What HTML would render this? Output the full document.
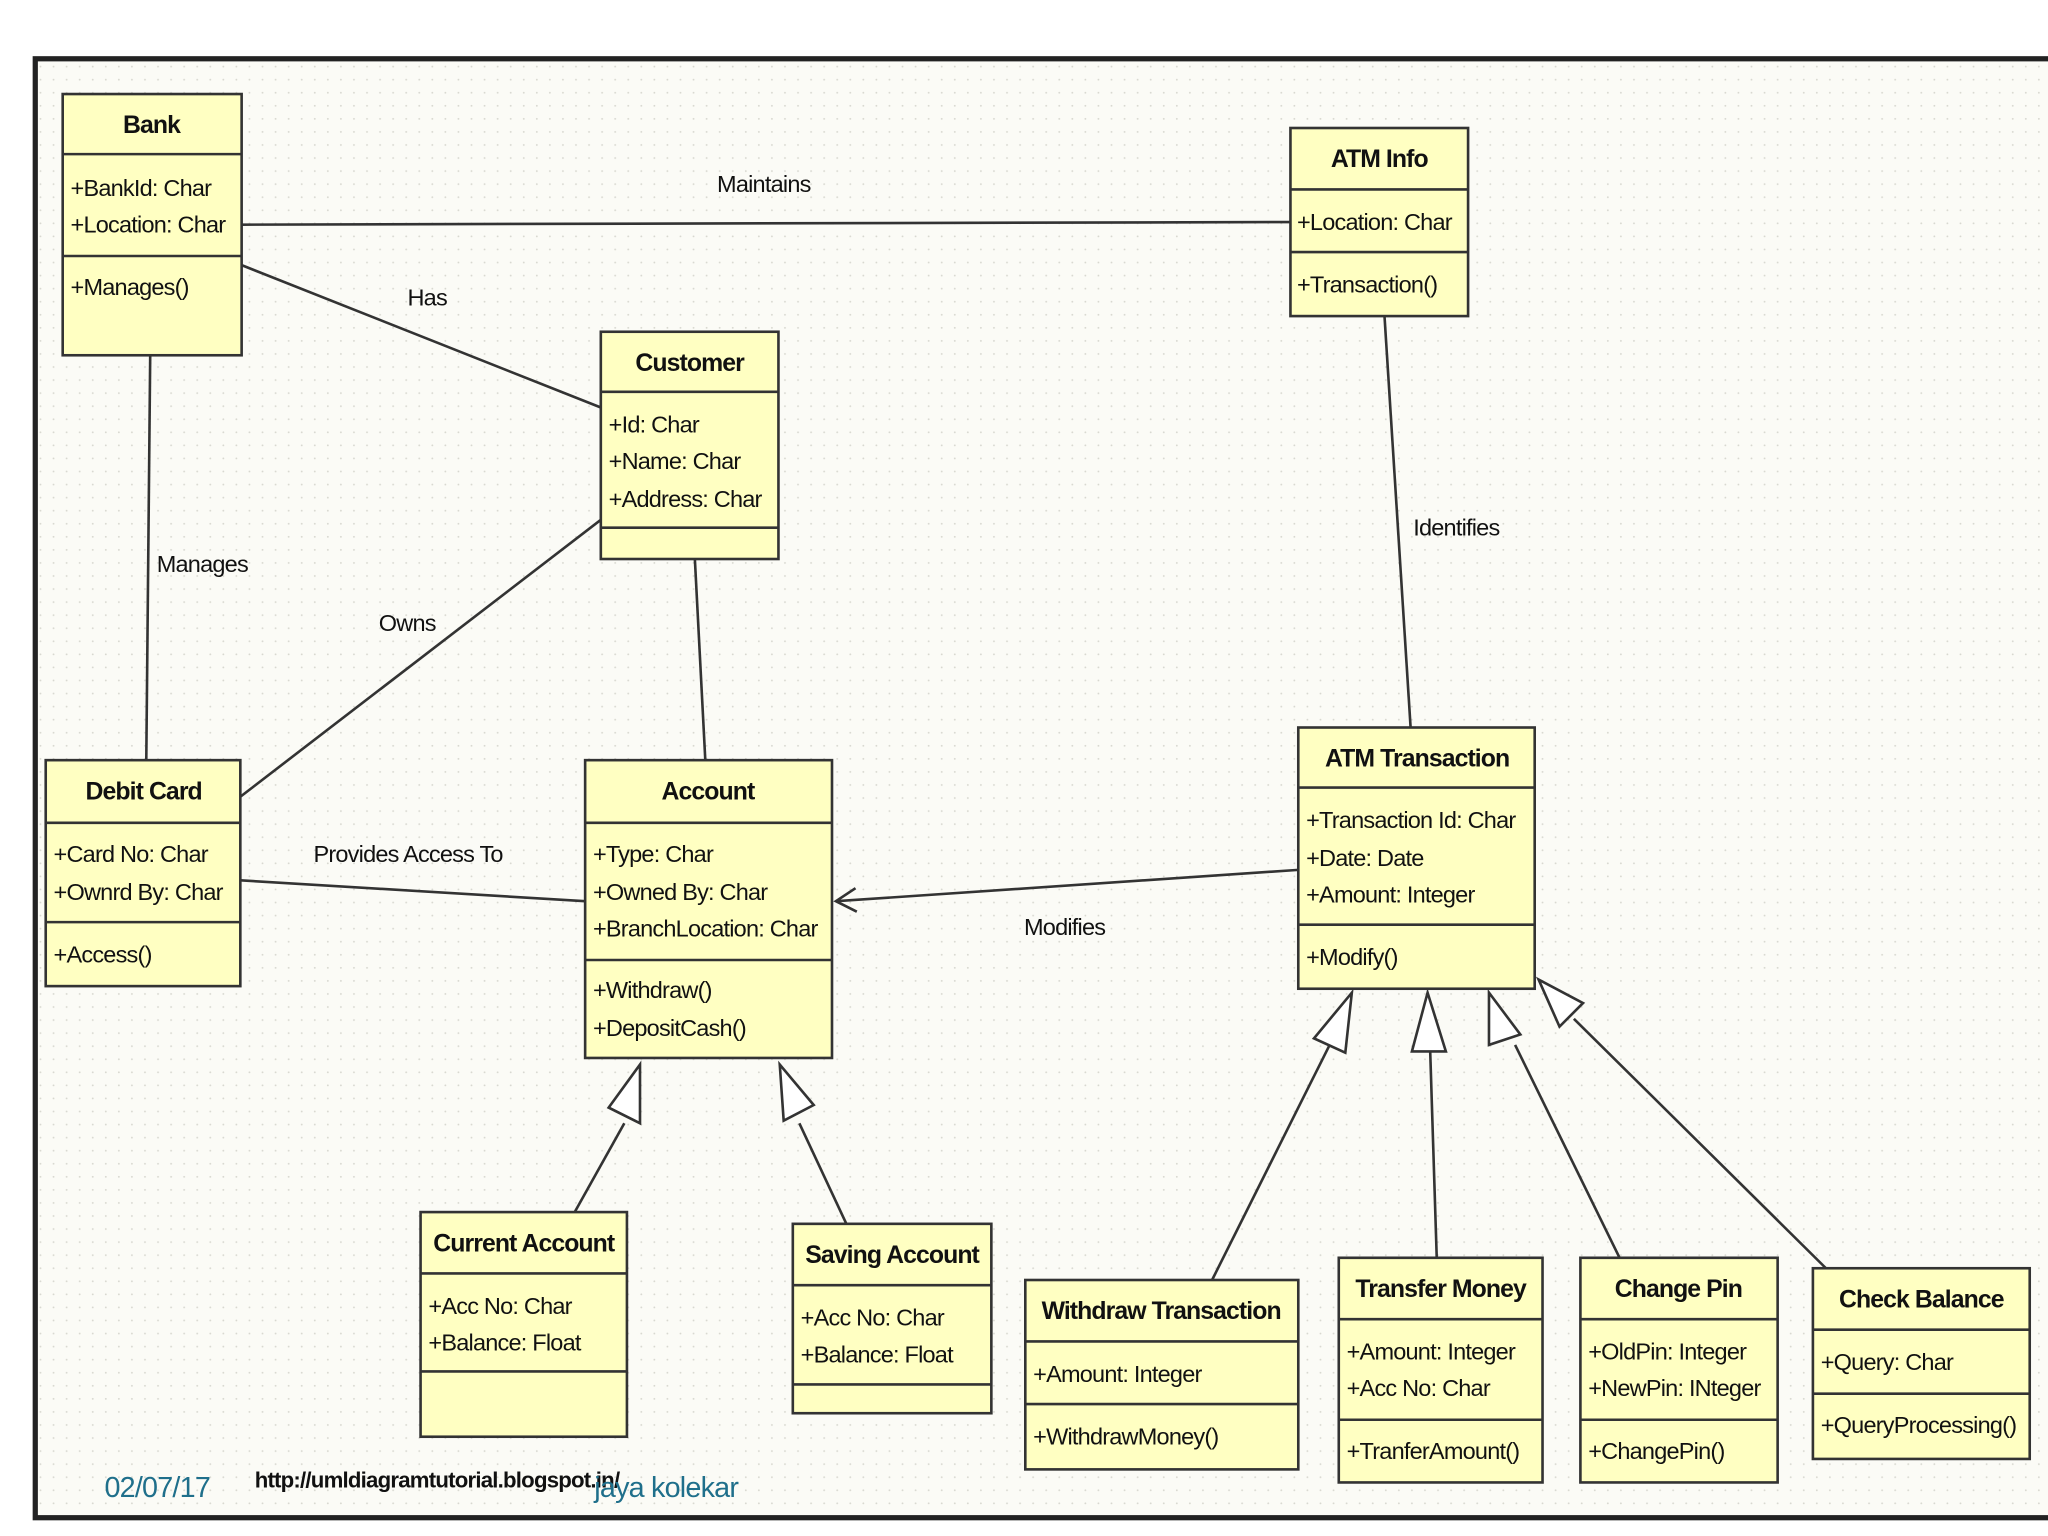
<!DOCTYPE html>
<html><head><meta charset="utf-8"><style>
html,body{margin:0;padding:0;background:#fff;}
svg{display:block}
text{font-family:"Liberation Sans",sans-serif;font-size:18px;letter-spacing:-0.6px;fill:#111}
.t{font-weight:bold;font-size:19px;letter-spacing:-0.7px}
</style></head><body>
<svg width="2048" height="1536" viewBox="0 0 1568 1176" xmlns="http://www.w3.org/2000/svg">
<defs><pattern id="g" width="10" height="10" patternUnits="userSpaceOnUse"><rect width="10" height="10" fill="#fbfbf6"/><circle cx="1" cy="1" r="0.7" fill="#d8d8d0"/></pattern></defs>
<rect x="0" y="0" width="1568" height="1176" fill="#fff"/>
<rect x="27" y="45" width="1560" height="1117" fill="url(#g)" stroke="#222" stroke-width="4"/>
<g stroke="#333" stroke-width="2" fill="none">
<line x1="185" y1="172" x2="988" y2="170"/>
<line x1="185" y1="203" x2="460" y2="312"/>
<line x1="115" y1="272" x2="112" y2="582"/>
<line x1="184" y1="610" x2="460" y2="398"/>
<line x1="532" y1="428" x2="540" y2="582"/>
<line x1="184" y1="674" x2="448" y2="690"/>
<line x1="994" y1="666" x2="640" y2="690"/>
<polyline points="655,680 640,690 656,698"/>
<line x1="1060" y1="242" x2="1080" y2="557"/>
<line x1="440" y1="928" x2="478" y2="860"/>
<line x1="648" y1="937" x2="612" y2="860"/>
<line x1="928" y1="980" x2="1018" y2="800"/>
<line x1="1100" y1="963" x2="1095" y2="805"/>
<line x1="1240" y1="963" x2="1160" y2="800"/>
<line x1="1398" y1="971" x2="1205" y2="780"/>
</g>
<g stroke="#333" stroke-width="2" fill="#fff">
<polygon points="490,815 466,848 490,860"/>
<polygon points="597,815 600,858 623,846"/>
<polygon points="1035,760 1006,795 1030,806"/>
<polygon points="1093,760 1081,805 1107,805"/>
<polygon points="1140,760 1140,800 1164,792"/>
<polygon points="1178,750 1194,786 1212,768"/>
</g>
<g fill="#ffffc2" stroke="#333" stroke-width="2">
<rect x="48" y="72" width="137" height="200"/><line x1="48" y1="118" x2="185" y2="118"/><line x1="48" y1="196" x2="185" y2="196"/>
<rect x="988" y="98" width="136" height="144"/><line x1="988" y1="145" x2="1124" y2="145"/><line x1="988" y1="193" x2="1124" y2="193"/>
<rect x="460" y="254" width="136" height="174"/><line x1="460" y1="300" x2="596" y2="300"/><line x1="460" y1="404" x2="596" y2="404"/>
<rect x="35" y="582" width="149" height="173"/><line x1="35" y1="630" x2="184" y2="630"/><line x1="35" y1="706" x2="184" y2="706"/>
<rect x="448" y="582" width="189" height="228"/><line x1="448" y1="630" x2="637" y2="630"/><line x1="448" y1="735" x2="637" y2="735"/>
<rect x="994" y="557" width="181" height="200"/><line x1="994" y1="603" x2="1175" y2="603"/><line x1="994" y1="708" x2="1175" y2="708"/>
<rect x="322" y="928" width="158" height="172"/><line x1="322" y1="975" x2="480" y2="975"/><line x1="322" y1="1050" x2="480" y2="1050"/>
<rect x="607" y="937" width="152" height="145"/><line x1="607" y1="984" x2="759" y2="984"/><line x1="607" y1="1060" x2="759" y2="1060"/>
<rect x="785" y="980" width="209" height="145"/><line x1="785" y1="1027" x2="994" y2="1027"/><line x1="785" y1="1075" x2="994" y2="1075"/>
<rect x="1025" y="963" width="156" height="172"/><line x1="1025" y1="1010" x2="1181" y2="1010"/><line x1="1025" y1="1087" x2="1181" y2="1087"/>
<rect x="1210" y="963" width="151" height="172"/><line x1="1210" y1="1010" x2="1361" y2="1010"/><line x1="1210" y1="1087" x2="1361" y2="1087"/>
<rect x="1388" y="971" width="166" height="146"/><line x1="1388" y1="1018" x2="1554" y2="1018"/><line x1="1388" y1="1067" x2="1554" y2="1067"/>
</g>
<g>
<text class="t" x="116" y="102" text-anchor="middle">Bank</text>
<text x="54" y="150">+BankId: Char</text><text x="54" y="178">+Location: Char</text><text x="54" y="226">+Manages()</text>
<text class="t" x="1056" y="128" text-anchor="middle">ATM Info</text>
<text x="993" y="176">+Location: Char</text><text x="993" y="224">+Transaction()</text>
<text class="t" x="528" y="284" text-anchor="middle">Customer</text>
<text x="466" y="331">+Id: Char</text><text x="466" y="359">+Name: Char</text><text x="466" y="388">+Address: Char</text>
<text class="t" x="110" y="612" text-anchor="middle">Debit Card</text>
<text x="41" y="660">+Card No: Char</text><text x="41" y="689">+Ownrd By: Char</text><text x="41" y="737">+Access()</text>
<text class="t" x="542" y="612" text-anchor="middle">Account</text>
<text x="454" y="660">+Type: Char</text><text x="454" y="689">+Owned By: Char</text><text x="454" y="717">+BranchLocation: Char</text>
<text x="454" y="764">+Withdraw()</text><text x="454" y="793">+DepositCash()</text>
<text class="t" x="1085" y="587" text-anchor="middle">ATM Transaction</text>
<text x="1000" y="634">+Transaction Id: Char</text><text x="1000" y="663">+Date: Date</text><text x="1000" y="691">+Amount: Integer</text><text x="1000" y="739">+Modify()</text>
<text class="t" x="401" y="958" text-anchor="middle">Current Account</text>
<text x="328" y="1006">+Acc No: Char</text><text x="328" y="1034">+Balance: Float</text>
<text class="t" x="683" y="967" text-anchor="middle">Saving Account</text>
<text x="613" y="1015">+Acc No: Char</text><text x="613" y="1043">+Balance: Float</text>
<text class="t" x="889" y="1010" text-anchor="middle">Withdraw Transaction</text>
<text x="791" y="1058">+Amount: Integer</text><text x="791" y="1106">+WithdrawMoney()</text>
<text class="t" x="1103" y="993" text-anchor="middle">Transfer Money</text>
<text x="1031" y="1041">+Amount: Integer</text><text x="1031" y="1069">+Acc No: Char</text><text x="1031" y="1117">+TranferAmount()</text>
<text class="t" x="1285" y="993" text-anchor="middle">Change Pin</text>
<text x="1216" y="1041">+OldPin: Integer</text><text x="1216" y="1069">+NewPin: INteger</text><text x="1216" y="1117">+ChangePin()</text>
<text class="t" x="1471" y="1001" text-anchor="middle">Check Balance</text>
<text x="1394" y="1049">+Query: Char</text><text x="1394" y="1097">+QueryProcessing()</text>
<text x="549" y="147">Maintains</text>
<text x="312" y="234">Has</text>
<text x="120" y="438">Manages</text>
<text x="290" y="483">Owns</text>
<text x="1082" y="410">Identifies</text>
<text x="240" y="660">Provides Access To</text>
<text x="784" y="716">Modifies</text>
<text x="195" y="1139" style="font-weight:bold;font-size:17px">http://umldiagramtutorial.blogspot.in/</text>
<text x="80" y="1146" style="fill:#1f6f8b;font-size:22px">02/07/17</text>
<text x="455" y="1146" style="fill:#1f6f8b;font-size:22px">jaya kolekar</text>
</g>
</svg>
</body></html>
